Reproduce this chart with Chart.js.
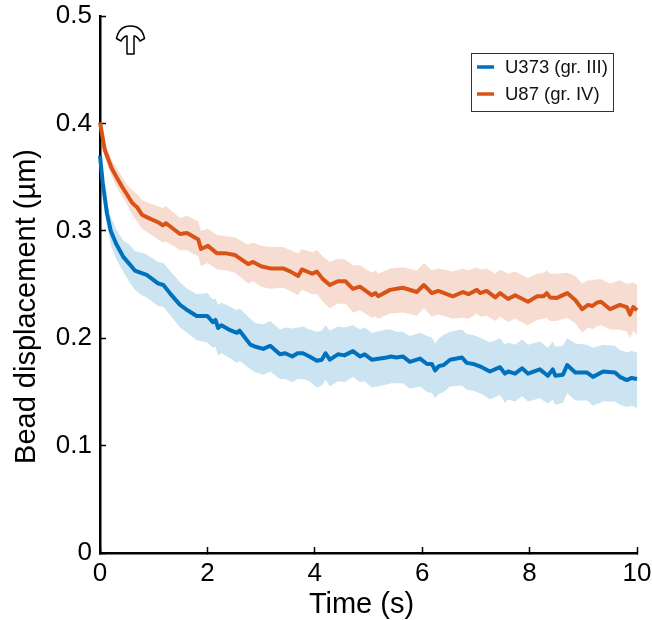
<!DOCTYPE html>
<html><head><meta charset="utf-8">
<style>html,body{margin:0;padding:0;background:#fff}#w{width:652px;height:620px}</style>
<script src="https://cdn.jsdelivr.net/npm/chart.js@4"></script></head>
<body><div id="w"><canvas id="c" width="652" height="620"></canvas></div>
<script>
const seriesNames = ['U373 (gr. III)', 'U87 (gr. IV)'];
const xTicks = [0,2,4,6,8,10];
const yTicks = [0,0.1,0.2,0.3,0.4,0.5];
const xTitle = 'Time (s)';
const yTitle = 'Bead displacement (\u00b5m)';

const blueTime = [0,.05,.13,.2,.3,.43,.55,.65,.75,.87,
 1.08,1.18,1.3,1.49,1.6,1.8,2.0,2.1,2.15,2.2,
 2.26,2.4,2.55,2.6,2.8,2.9,3.04,3.17,3.35,3.45,
 3.58,3.68,3.78,3.9,4.04,4.13,4.2,4.28,4.43,4.55,
 4.71,4.84,4.93,5.06,5.34,5.42,5.52,5.64,5.77,5.96,
 6.09,6.18,6.24,6.31,6.4,6.52,6.74,6.83,6.95,7.11,
 7.26,7.45,7.54,7.6,7.73,7.86,7.97,8.19,8.34,8.43,
 8.48,8.62,8.7,8.85,9.07,9.18,9.37,9.59,9.68,9.81,
 9.9,10];
const blueMean = [.37,.345,.316,.3,.288,.276,.269,.263,.261,.259,
 .251,.2495,.242,.231,.227,.2207,.2207,.215,.217,.2095,
 .212,.208,.205,.207,.194,.192,.19,.193,.185,.186,
 .183,.186,.186,.183,.179,.18,.186,.18,.185,.184,
 .188,.183,.185,.18,.182,.183,.182,.183,.178,.181,
 .176,.176,.17,.174,.175,.18,.182,.177,.176,.173,
 .169,.173,.167,.169,.167,.172,.167,.171,.165,.171,
 .165,.166,.175,.168,.168,.164,.169,.168,.164,.161,
 .163,.162];
const blueUpper = [.37,.35,.326,.313,.302,.291,.287,.281,.28,.278,
 .271,.27,.263,.252,.247,.241,.242,.236,.237,.231,
 .233,.23,.226,.228,.218,.214,.213,.216,.208,.21,
 .209,.21,.211,.208,.206,.207,.212,.207,.211,.21,
 .212,.208,.21,.205,.208,.208,.206,.206,.202,.205,
 .202,.201,.195,.2,.203,.206,.208,.204,.203,.2,
 .196,.2,.194,.196,.194,.199,.194,.197,.191,.197,
 .192,.193,.2,.195,.194,.191,.194,.193,.189,.187,
 .188,.187];
const blueLower = [.37,.34,.305,.287,.274,.262,.252,.245,.241,.238,
 .23,.229,.222,.21,.206,.198,.196,.191,.192,.184,
 .186,.182,.177,.179,.171,.168,.166,.169,.162,.162,
 .159,.162,.162,.16,.154,.156,.161,.155,.16,.159,
 .164,.159,.16,.154,.157,.158,.158,.158,.153,.155,
 .15,.149,.144,.148,.15,.155,.156,.152,.151,.148,
 .143,.147,.14,.143,.141,.146,.141,.144,.139,.143,
 .138,.14,.149,.142,.142,.137,.141,.141,.138,.136,
 .137,.135];

const orangeTime = [0,.09,.22,.32,.41,.5,.6,.69,.78,.9,
 1.08,1.17,1.23,1.49,1.62,1.83,1.88,2.01,2.18,2.35,
 2.51,2.76,2.85,3.0,3.17,3.41,3.55,3.69,3.76,3.95,
 4.04,4.15,4.28,4.43,4.57,4.71,4.84,5.06,5.13,5.18,
 5.4,5.64,5.9,6.03,6.18,6.3,6.57,6.76,6.86,7.02,
 7.08,7.2,7.36,7.45,7.6,7.73,7.97,8.14,8.26,8.32,
 8.38,8.51,8.7,8.85,8.98,9.09,9.17,9.25,9.33,9.5,
 9.68,9.81,9.87,9.93,10];
const orangeMean = [.401,.375,.358,.349,.341,.334,.326,.322,.315,.312,
 .308,.305,.307,.297,.298,.292,.283,.286,.279,.279,
 .2775,.269,.271,.267,.265,.265,.262,.258,.264,.26,
 .262,.255,.2495,.253,.253,.246,.248,.24,.242,.239,
 .245,.247,.243,.2495,.242,.244,.239,.243,.241,.245,
 .242,.244,.238,.242,.2365,.24,.234,.239,.239,.242,
 .238,.2375,.242,.2355,.227,.231,.23,.233,.234,.227,
 .231,.229,.222,.229,.226];
const orangeUpper = [.401,.382,.366,.358,.35,.343,.338,.334,.329,.326,
 .323,.321,.323,.312,.314,.309,.3,.302,.296,.295,
 .294,.287,.289,.286,.285,.285,.282,.279,.283,.28,
 .282,.276,.271,.274,.273,.268,.268,.261,.263,.26,
 .265,.266,.263,.27,.263,.265,.262,.265,.263,.266,
 .264,.265,.26,.264,.26,.262,.256,.26,.261,.263,
 .26,.26,.261,.258,.251,.254,.254,.255,.255,.251,
 .254,.251,.251,.252,.25];
const orangeLower = [.401,.368,.35,.34,.332,.325,.315,.309,.302,.298,
 .292,.289,.29,.282,.282,.276,.267,.27,.264,.263,
 .261,.251,.253,.248,.246,.247,.244,.24,.245,.241,
 .241,.234,.228,.232,.232,.224,.226,.219,.22,.218,
 .223,.224,.221,.228,.22,.222,.218,.219,.218,.223,
 .22,.221,.216,.22,.215,.218,.212,.217,.218,.219,
 .216,.216,.219,.214,.205,.21,.208,.211,.212,.208,
 .208,.206,.2,.207,.203];

const BLUE='#0072BD', ORANGE='#D95319';
const FONT='"Liberation Sans", Arial, sans-serif';
const pts=(t,v)=>t.map((x,i)=>({x,y:v[i]}));
const band=(label,t,v,fill,color)=>({label,data:pts(t,v),fill,backgroundColor:color,borderWidth:0,pointRadius:0,order:5,tension:0});
const line=(label,t,v,color)=>({label,data:pts(t,v),borderColor:color,borderWidth:4,pointRadius:0,fill:false,order:1,clip:false,tension:0,borderJoinStyle:'round'});
const zeroPad=s=>{s.paddingLeft=s.paddingRight=s.paddingTop=s.paddingBottom=0;};

const decor={id:'decor',afterDraw(ch){
  const c=ch.ctx;
  c.save();
  // axis titles, placed off-centre as in the source figure
  c.fillStyle='#000';c.font='29px '+FONT;c.textAlign='center';c.textBaseline='middle';
  c.fillText(xTitle,361.5,605);
  c.save();c.translate(27,306.5);c.rotate(-Math.PI/2);c.fillText(yTitle,0,0);c.restore();
  // legend box
  c.fillStyle='#fff';c.strokeStyle='#333';c.lineWidth=1;
  c.fillRect(471.5,53.5,142,58);c.strokeRect(471.5,53.5,142,58);
  c.lineCap='butt';c.lineWidth=3.5;
  [[BLUE,67],[ORANGE,94]].forEach(([col,y],i)=>{
    c.strokeStyle=col;c.beginPath();c.moveTo(477,y);c.lineTo(494,y);c.stroke();
    c.fillStyle='#111';c.font='18.5px '+FONT;c.textBaseline='middle';c.textAlign='left';
    c.fillText(seriesNames[i],505,y+1);
  });
  // force-direction glyph
  c.strokeStyle='#000';c.lineWidth=1.5;c.lineJoin='round';c.beginPath();
  c.moveTo(127,54);c.lineTo(134,54);c.lineTo(134,36);
  c.quadraticCurveTo(137,36,140,41);c.lineTo(144.5,38.5);
  c.quadraticCurveTo(142,26,130.5,26);c.quadraticCurveTo(119,26,116.5,38.5);
  c.lineTo(121,41);c.quadraticCurveTo(124,36,127,36);c.closePath();c.stroke();
  c.restore();
}};

new Chart(document.getElementById('c'),{
  type:'line',
  data:{datasets:[
    line(seriesNames[0],blueTime,blueMean,BLUE),
    line(seriesNames[1],orangeTime,orangeMean,ORANGE),
    band('U373 upper',blueTime,blueUpper,'+1','rgba(0,114,189,0.2)'),
    band('U373 lower',blueTime,blueLower,false,'rgba(0,114,189,0.2)'),
    band('U87 upper',orangeTime,orangeUpper,'+1','rgba(217,83,25,0.2)'),
    band('U87 lower',orangeTime,orangeLower,false,'rgba(217,83,25,0.2)')
  ]},
  options:{
    responsive:false,animation:false,
    layout:{autoPadding:false,padding:{top:16,right:15,left:0,bottom:0}},
    plugins:{legend:{display:false},tooltip:{enabled:false}},
    scales:{
      x:{type:'linear',min:0,max:10,
        afterBuildTicks:s=>{s.ticks=xTicks.map(value=>({value}))},
        afterFit:s=>{s.height=67;zeroPad(s)},
        border:{color:'#000',width:2.5},
        grid:{drawOnChartArea:false,drawTicks:true,tickLength:-6,tickWidth:1.5,tickColor:'#000'},
        ticks:{color:'#000',font:{family:FONT,size:26},padding:11,maxRotation:0,autoSkip:false,callback:v=>String(v)}
      },
      y:{min:0,max:0.5,
        afterBuildTicks:s=>{s.ticks=yTicks.map(value=>({value}))},
        afterFit:s=>{s.width=100;zeroPad(s)},
        border:{color:'#000',width:2.5},
        grid:{drawOnChartArea:false,drawTicks:true,tickLength:-6,tickWidth:1.5,tickColor:'#000'},
        ticks:{color:'#000',font:{family:FONT,size:26},padding:14,autoSkip:false,callback:v=>v===0?'0':v.toFixed(1)}
      }
    }
  },
  plugins:[decor]
});
</script></body></html>
